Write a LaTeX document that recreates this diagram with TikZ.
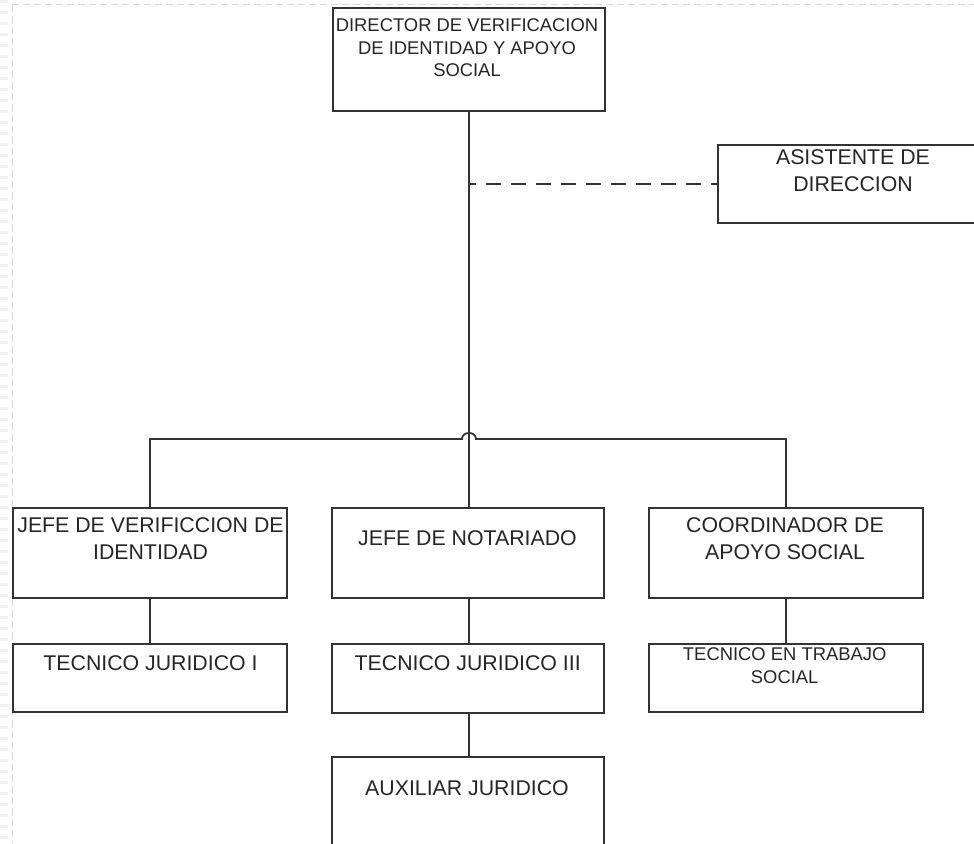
\documentclass[tikz,border=0pt]{standalone}
\usepackage{fontspec}
\setmainfont{Liberation Sans}
\begin{document}
\begin{tikzpicture}[x=1pt,y=-1pt,
  box/.style={draw=black!80, line width=1.8pt, rectangle, inner sep=0pt},
  big/.style={font=\fontsize{21.3}{26.5}\selectfont, align=center, inner sep=0pt, anchor=north, text=black!85},
  small/.style={font=\fontsize{18.4}{22.4}\selectfont, align=center, inner sep=0pt, anchor=north, text=black!85},
  conn/.style={draw=black!80, line width=1.8pt},
  pageedge/.style={draw=gray!30, line width=1pt, dash pattern=on 7pt off 4pt}
]
\clip (0,0) rectangle (974,843);
\fill[white] (0,0) rectangle (974,843);
% page border
\draw[pageedge] (12,5) -- (974,5);
\draw[pageedge] (12,5) -- (12,843);
\draw[gray!12, line width=8pt, dash pattern=on 3pt off 8pt] (4,0) -- (4,843);

% boxes
\node[box, minimum width=272pt, minimum height=103pt] (dir) at (469,59.5) {};
\node[box, minimum width=272pt, minimum height=78pt] (asis) at (854,184) {};
\node[box, minimum width=274pt, minimum height=90pt] (jv) at (150,553) {};
\node[box, minimum width=272pt, minimum height=90pt] (jn) at (468,553) {};
\node[box, minimum width=274pt, minimum height=90pt] (co) at (786,553) {};
\node[box, minimum width=274pt, minimum height=68pt] (tj1) at (150,678) {};
\node[box, minimum width=272pt, minimum height=69pt] (tj3) at (468,678.5) {};
\node[box, minimum width=274pt, minimum height=68pt] (tts) at (786,678) {};
\node[box, minimum width=272pt, minimum height=126pt] (aux) at (468,820) {};

% texts
\node[small] (dirt) at (467,18.8) {DIRECTOR DE VERIFICACION\\DE IDENTIDAD Y APOYO\\SOCIAL};
\node[big] (asist) at (853,149.75) {ASISTENTE DE\\DIRECCION};
\node[big] (jvt) at (150.5,517.75) {JEFE DE VERIFICCION DE\\IDENTIDAD};
\node[big] (jnt) at (467.5,530.75) {JEFE DE NOTARIADO};
\node[big] (cot) at (785,517.75) {COORDINADOR DE\\APOYO SOCIAL};
\node[big] (tj1t) at (150.5,655.75) {TECNICO JURIDICO I};
\node[big] (tj3t) at (467.7,655.75) {TECNICO JURIDICO III};
\node[small] (ttst) at (784.7,647.8) {TECNICO EN TRABAJO\\SOCIAL};
\node[big] (auxt) at (467,780.75) {AUXILIAR JURIDICO};

% connectors
\coordinate (bus) at (469,439);
\coordinate (dj) at (dir.south |- asis.west);
\draw[conn] (dir.south) -- (dir.south |- jn.north);
\draw[conn] (jv.north) -- (jv.north |- bus) -- ([xshift=-7pt]bus)
  .. controls ([xshift=-7pt,yshift=8pt]bus) and ([xshift=7pt,yshift=8pt]bus) .. ([xshift=7pt]bus)
  -- (co.north |- bus) -- (co.north);
\draw[conn, dash pattern=on 15pt off 10pt, dash phase=8pt] (dj) -- (asis.west);
\draw[conn] (jv.south) -- (tj1.north);
\draw[conn] (co.south) -- (tts.north);
\draw[conn] (jn.south -| dir.south) -- (tj3.north -| dir.south);
\draw[conn] (tj3.south -| dir.south) -- (aux.north -| dir.south);
\end{tikzpicture}
\end{document}
